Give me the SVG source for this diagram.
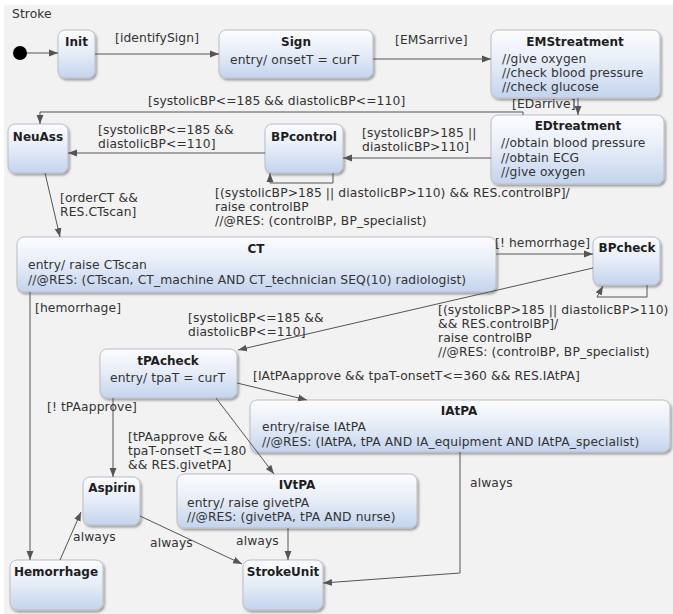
<svg xmlns="http://www.w3.org/2000/svg" width="673" height="614" viewBox="0 0 673 614">
<defs>
<linearGradient id="g" x1="0" y1="0" x2="0" y2="1">
<stop offset="0" stop-color="#fbfcfe"/>
<stop offset="0.45" stop-color="#e8eef8"/>
<stop offset="1" stop-color="#c3d4ee"/>
</linearGradient>
<filter id="sh" x="-10%" y="-10%" width="130%" height="140%">
<feDropShadow dx="1.5" dy="2" stdDeviation="1.2" flood-color="#000" flood-opacity="0.35"/>
</filter>
<marker id="a" viewBox="0 0 10 10" refX="10" refY="5" markerWidth="9" markerHeight="9" markerUnits="userSpaceOnUse" orient="auto"><path d="M0,1.2 L10,5 L0,8.8 z" fill="#555"/></marker>
</defs>
<style>
.n rect{fill:url(#g);stroke:#b9bdc5;stroke-width:1;filter:url(#sh)}
text{font-family:"DejaVu Sans",Verdana,sans-serif;font-size:12.3px;letter-spacing:0.1px;fill:#333}
.t{font-weight:bold;font-size:12px;letter-spacing:0;fill:#1e1e1e;text-anchor:middle}
.c path{fill:none;stroke:#555;stroke-width:1;marker-end:url(#a)}
</style>
<rect x="4" y="5" width="669" height="609" fill="#f2f2f2"/>
<text x="12" y="18">Stroke</text>

<g id="initial"><circle cx="20" cy="53" r="7" fill="#000"/></g>
<g id="Init" class="n"><rect x="58" y="30" width="37" height="48" rx="7"/><text class="t" x="76.5" y="46">Init</text></g>
<g id="Sign" class="n"><rect x="219" y="30" width="154" height="48" rx="7"/><text class="t" x="296" y="46">Sign</text><text x="230" y="64">entry/ onsetT = curT</text></g>
<g id="EMStreatment" class="n"><rect x="491" y="30" width="169" height="68" rx="7"/><text class="t" x="575" y="46">EMStreatment</text><text x="502" y="63">//give oxygen</text><text x="502" y="77">//check blood pressure</text><text x="502" y="91">//check glucose</text></g>
<g id="EDtreatment" class="n"><rect x="491" y="115" width="173" height="69" rx="7"/><text class="t" x="578" y="130">EDtreatment</text><text x="501" y="147">//obtain blood pressure</text><text x="501" y="162">//obtain ECG</text><text x="501" y="176">//give oxygen</text></g>
<g id="NeuAss" class="n"><rect x="8" y="124" width="60" height="49" rx="7"/><text class="t" x="38" y="141">NeuAss</text></g>
<g id="BPcontrol" class="n"><rect x="265" y="124" width="78" height="49" rx="7"/><text class="t" x="304" y="141">BPcontrol</text></g>
<g id="CT" class="n"><rect x="17" y="237" width="479" height="55" rx="7"/><text class="t" x="256" y="253">CT</text><text x="28" y="269">entry/ raise CTscan</text><text x="28" y="284">//@RES: (CTscan, CT_machine AND CT_technician SEQ(10) radiologist)</text></g>
<g id="BPcheck" class="n"><rect x="593" y="237" width="67" height="48" rx="7"/><text class="t" x="627" y="252">BPcheck</text></g>
<g id="tPAcheck" class="n"><rect x="100" y="349" width="137" height="49" rx="7"/><text class="t" x="168" y="365">tPAcheck</text><text x="110" y="382">entry/ tpaT = curT</text></g>
<g id="IAtPA" class="n"><rect x="250" y="400" width="420" height="52" rx="7"/><text class="t" x="459" y="415">IAtPA</text><text x="262" y="431">entry/raise IAtPA</text><text x="262" y="446">//@RES: (IAtPA, tPA AND IA_equipment AND IAtPA_specialist)</text></g>
<g id="IVtPA" class="n"><rect x="177" y="474" width="240" height="54" rx="7"/><text class="t" x="297" y="489">IVtPA</text><text x="187" y="507">entry/ raise givetPA</text><text x="187" y="521">//@RES: (givetPA, tPA AND nurse)</text></g>
<g id="Aspirin" class="n"><rect x="83" y="477" width="57" height="48" rx="7"/><text class="t" x="112" y="492">Aspirin</text></g>
<g id="Hemorrhage" class="n"><rect x="10" y="560" width="93" height="50" rx="7"/><text class="t" x="56" y="576">Hemorrhage</text></g>
<g id="StrokeUnit" class="n"><rect x="243" y="560" width="80" height="50" rx="7"/><text class="t" x="283" y="576">StrokeUnit</text></g>

<g id="connectors" class="c">
<path d="M27,53 L58,53"/>
<path d="M95,54 L219,54"/>
<path d="M373,59 L491,59"/>
<path d="M578,98 L578,115"/>
<path d="M523,115 L523,112 L40,112 L40,124"/>
<path d="M491,158 L343,158"/>
<path d="M265,153 L68,153"/>
<path d="M333,173 L333,183 L270,183 L270,173"/>
<path d="M45,173 L60,237"/>
<path d="M496,254 L593,254"/>
<path d="M647,285 L647,297 L597,297 L603,286"/>
<path d="M593,268 L238,350"/>
<path d="M30,292 L30,560"/>
<path d="M237,383 L307,400"/>
<path d="M113,398 L113,477"/>
<path d="M216,398 L274,474"/>
<path d="M460,452 L460,573 L323,583"/>
<path d="M60,560 L81,512"/>
<path d="M140,516 L242,564"/>
<path d="M288,528 L288,560"/>
</g>
<g id="labels">
<text x="115" y="42">[identifySign]</text>
<text x="395" y="44">[EMSarrive]</text>
<text x="512" y="108">[EDarrive]</text>
<text x="148" y="105">[systolicBP&lt;=185 &amp;&amp; diastolicBP&lt;=110]</text>
<text x="362" y="137">[systolicBP&gt;185 ||</text>
<text x="362" y="151">diastolicBP&gt;110]</text>
<text x="98" y="134">[systolicBP&lt;=185 &amp;&amp;</text>
<text x="98" y="148">diastolicBP&lt;=110]</text>
<text x="215" y="197">[(systolicBP&gt;185 || diastolicBP&gt;110) &amp;&amp; RES.controlBP]/</text>
<text x="215" y="211">raise controlBP</text>
<text x="215" y="225">//@RES: (controlBP, BP_specialist)</text>
<text x="60" y="202">[orderCT &amp;&amp;</text>
<text x="60" y="216">RES.CTscan]</text>
<text x="495" y="247">[! hemorrhage]</text>
<text x="35" y="312">[hemorrhage]</text>
<text x="188" y="322">[systolicBP&lt;=185 &amp;&amp;</text>
<text x="188" y="336">diastolicBP&lt;=110]</text>
<text x="438" y="314">[(systolicBP&gt;185 || diastolicBP&gt;110)</text>
<text x="438" y="328">&amp;&amp; RES.controlBP]/</text>
<text x="438" y="342">raise controlBP</text>
<text x="438" y="356">//@RES: (controlBP, BP_specialist)</text>
<text x="253" y="380">[IAtPAapprove &amp;&amp; tpaT-onsetT&lt;=360 &amp;&amp; RES.IAtPA]</text>
<text x="47" y="411">[! tPAapprove]</text>
<text x="128" y="441">[tPAapprove &amp;&amp;</text>
<text x="128" y="455">tpaT-onsetT&lt;=180</text>
<text x="128" y="469">&amp;&amp; RES.givetPA]</text>
<text x="470" y="487">always</text>
<text x="73" y="541">always</text>
<text x="150" y="547">always</text>
<text x="236" y="545">always</text>
</g>
</svg>
